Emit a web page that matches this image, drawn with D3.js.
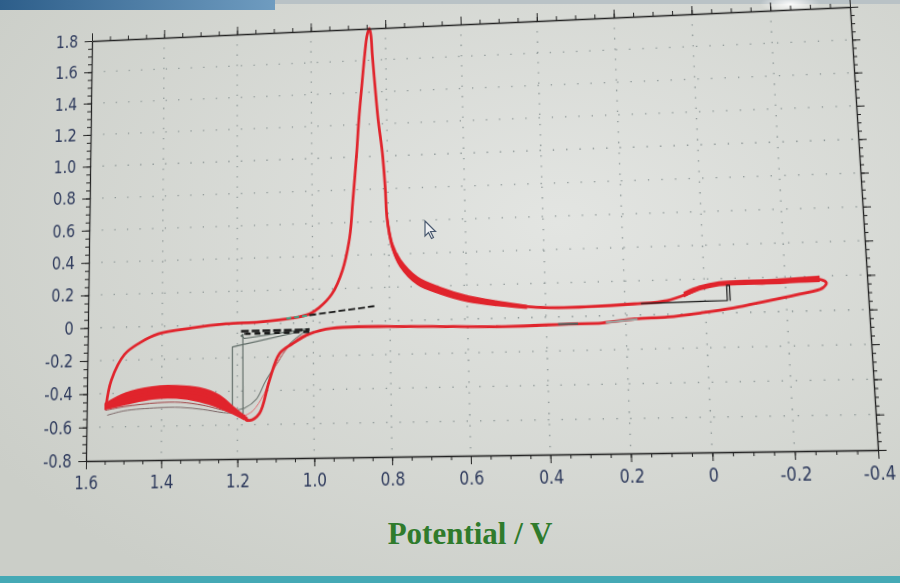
<!DOCTYPE html>
<html>
<head>
<meta charset="utf-8">
<script src="https://cdn.jsdelivr.net/npm/d3@7"></script>
<style>
  html, body { margin: 0; padding: 0; width: 900px; height: 583px; overflow: hidden; background: #d6d9d4; }
  #base, #cv { position: absolute; left: 0; top: 0; }
  #cv { transform-origin: 0 0; }
  .tick text { font-family: "Liberation Sans Narrow", "DejaVu Sans Condensed", "Liberation Sans", Arial, sans-serif; font-size: 17px; fill: #2e3a5c; }
  .tick line { stroke: #222; }
  .domain { stroke: #222; stroke-width: 1.3px; }
</style>
</head>
<body>
<svg id="base" width="900" height="583"></svg>
<svg id="cv" width="900" height="583"></svg>
<script>
// cyclic voltammogram (photo of instrument screen)

// axes
var xTicks = [1.6, 1.4, 1.2, 1.0, 0.8, 0.6, 0.4, 0.2, 0, -0.2, -0.4],
    xTickLabels = ["1.6", "1.4", "1.2", "1.0", "0.8", "0.6", "0.4", "0.2", "0", "-0.2", "-0.4"];
var yTicks = [-0.8, -0.6, -0.4, -0.2, 0, 0.2, 0.4, 0.6, 0.8, 1.0, 1.2, 1.4, 1.6, 1.8],
    yTickLabels = ["-0.8", "-0.6", "-0.4", "-0.2", "0", "0.2", "0.4", "0.6", "0.8", "1.0", "1.2", "1.4", "1.6", "1.8"];
var xTitle = "Potential / V";

// main cycle [E, I]
var cycleMain = [
  [1.548, -0.47], [1.535, -0.32], [1.50, -0.165], [1.46, -0.098], [1.41, -0.046],
  [1.32, -0.015], [1.23, 0.005], [1.14, 0.012], [1.055, 0.03], [1.01, 0.052],
  [0.984, 0.089], [0.95, 0.17], [0.922, 0.31], [0.902, 0.51], [0.893, 0.72],
  [0.881, 1.02], [0.874, 1.23], [0.865, 1.44], [0.856, 1.64], [0.849, 1.76],
  [0.843, 1.80], [0.839, 1.76], [0.836, 1.64], [0.830, 1.44], [0.823, 1.23],
  [0.813, 1.02], [0.807, 0.81], [0.803, 0.61], [0.790, 0.44], [0.771, 0.34],
  [0.727, 0.234], [0.668, 0.17], [0.598, 0.118], [0.513, 0.084], [0.403, 0.056],
  [0.30, 0.055], [0.177, 0.065], [0.094, 0.08], [0.04, 0.12], [0.012, 0.148],
  [-0.037, 0.172], [-0.153, 0.175], [-0.233, 0.18], [-0.282, 0.182], [-0.300, 0.162],
  [-0.290, 0.13], [-0.233, 0.098], [-0.153, 0.063], [-0.069, 0.027], [0.012, 0.003],
  [0.094, -0.016], [0.177, -0.023], [0.259, -0.042], [0.343, -0.044], [0.513, -0.05],
  [0.748, -0.036], [0.95, -0.036], [1.01, -0.067], [1.055, -0.124], [1.089, -0.182],
  [1.116, -0.343], [1.142, -0.535], [1.168, -0.575], [1.213, -0.515], [1.247, -0.455],
  [1.30, -0.41], [1.361, -0.395], [1.425, -0.40], [1.496, -0.435], [1.548, -0.47]
];

// spread of the overlapping cycles [E, Itop, Ibottom]
var bandLeft = [
  [1.55, -0.46, -0.49], [1.496, -0.40, -0.465], [1.425, -0.366, -0.435], [1.361, -0.362, -0.432],
  [1.30, -0.378, -0.455], [1.247, -0.425, -0.495], [1.213, -0.49, -0.53], [1.175, -0.56, -0.575]
];
var bandDecay = [
  [0.803, 0.62, 0.60], [0.790, 0.46, 0.43], [0.771, 0.365, 0.325], [0.727, 0.255, 0.215],
  [0.668, 0.19, 0.155], [0.598, 0.135, 0.105], [0.513, 0.095, 0.074], [0.45, 0.07, 0.058]
];
var bandRight = [
  [0.05, 0.125, 0.105], [0.012, 0.158, 0.14], [-0.037, 0.18, 0.163], [-0.153, 0.185, 0.165],
  [-0.233, 0.192, 0.17], [-0.282, 0.196, 0.172]
];

// first cycles (thin)
var olderA = [[1.55, -0.50], [1.50, -0.48], [1.41, -0.46], [1.35, -0.46], [1.29, -0.48], [1.23, -0.515], [1.215, -0.52]];
var olderB = [[1.545, -0.53], [1.50, -0.505], [1.41, -0.49], [1.35, -0.49], [1.29, -0.505], [1.24, -0.525], [1.215, -0.53]];
var riseA = [[1.215, -0.515], [1.18, -0.50], [1.15, -0.45], [1.125, -0.34], [1.09, -0.22], [1.06, -0.12], [1.02, -0.05]];
var riseB = [[1.185, -0.55], [1.16, -0.52], [1.13, -0.42], [1.105, -0.28], [1.075, -0.17], [1.04, -0.09], [1.01, -0.06]];

// switching steps drawn by the instrument
var stepA = [[1.01, -0.04], [1.213, -0.135], [1.213, -0.52]];
var stepB = [[1.01, -0.035], [1.18, -0.085], [1.19, -0.07], [1.185, -0.06], [1.185, -0.56]];
var stepRight = [[0.16, 0.066], [-0.055, 0.072], [-0.055, 0.16], [-0.062, 0.16], [-0.062, 0.07]];
var dashUpper = [[1.01, 0.045], [0.84, 0.09]];
var dashGreen = [[1.07, 0.028], [1.01, 0.045]];
var dashLowerA = [[1.19, -0.042], [1.01, -0.042]];
var dashLowerB = [[1.18, -0.058], [1.01, -0.054]];
var grayLower = [[0.37, -0.043], [0.32, -0.043]];
var grayLower2 = [[0.25, -0.04], [0.17, -0.024]];

// flat plot box, then warped onto the photographed screen
var L = 92, T = 41, W = 778, H = 420;
var quad = [[92, 41], [850, 7], [878, 450], [86, 461]];

var x = d3.scaleLinear().domain([1.6, -0.4]).range([L, L + W]),
    y = d3.scaleLinear().domain([-0.8, 1.8]).range([T + H, T]);

var red = "#e0242c";

// background layer
var base = d3.select("#base");
var defs = base.append("defs");
var rg = defs.append("radialGradient").attr("id", "bg").attr("cx", "62%").attr("cy", "38%").attr("r", "75%");
rg.append("stop").attr("offset", "0%").attr("stop-color", "#e3e5e2");
rg.append("stop").attr("offset", "100%").attr("stop-color", "#cbcec8");
base.append("rect").attr("width", 900).attr("height", 583).attr("fill", "url(#bg)");
var tb = defs.append("linearGradient").attr("id", "tb");
tb.append("stop").attr("offset", "0%").attr("stop-color", "#2d5e8a");
tb.append("stop").attr("offset", "100%").attr("stop-color", "#6f9cc0");
base.append("rect").attr("x", 0).attr("y", 0).attr("width", 275).attr("height", 10).attr("fill", "url(#tb)");
base.append("rect").attr("x", 275).attr("y", 0).attr("width", 625).attr("height", 4).attr("fill", "#b9c2c6");
base.append("rect").attr("x", 0).attr("y", 576).attr("width", 900).attr("height", 7).attr("fill", "#45a9b5");
var gl = defs.append("radialGradient").attr("id", "glare");
gl.append("stop").attr("offset", "0%").attr("stop-color", "#ffffff").attr("stop-opacity", 0.9);
gl.append("stop").attr("offset", "100%").attr("stop-color", "#ffffff").attr("stop-opacity", 0);
base.append("ellipse").attr("cx", 790).attr("cy", 4).attr("rx", 30).attr("ry", 10).attr("fill", "url(#glare)");

base.append("text")
    .attr("x", 470)
    .attr("y", 544)
    .attr("text-anchor", "middle")
    .style("font-family", "'Liberation Serif', 'Times New Roman', serif")
    .style("font-weight", "bold")
    .style("font-size", "31px")
    .style("fill", "#2f7b2c")
    .text(xTitle);

// mouse pointer
base.append("path")
    .attr("d", "M425,221 L425,236 L428.5,232.5 L431.5,238.5 L433.5,237.5 L430.5,231.5 L435.5,231.5 Z")
    .attr("fill", "#eef0f2")
    .attr("stroke", "#4a5a70")
    .attr("stroke-width", 1.2);

// chart layer
var svg = d3.select("#cv");
svg.style("transform", quadMatrix(L, T, W, H, quad));
var g = svg.append("g");

function quadMatrix(L, T, W, H, q) {
    var x0 = q[0][0], y0 = q[0][1], x1 = q[1][0], y1 = q[1][1],
        x2 = q[2][0], y2 = q[2][1], x3 = q[3][0], y3 = q[3][1];
    var dx1 = x1 - x2, dx2 = x3 - x2, dx3 = x0 - x1 + x2 - x3,
        dy1 = y1 - y2, dy2 = y3 - y2, dy3 = y0 - y1 + y2 - y3;
    var det = dx1 * dy2 - dx2 * dy1;
    var gg = (dx3 * dy2 - dx2 * dy3) / det,
        hh = (dx1 * dy3 - dx3 * dy1) / det;
    var a = x1 - x0 + gg * x1, b = x3 - x0 + hh * x3, c = x0,
        d = y1 - y0 + gg * y1, e = y3 - y0 + hh * y3, f = y0;
    var r1 = [a / W, b / H, c - a * L / W - b * T / H],
        r2 = [d / W, e / H, f - d * L / W - e * T / H],
        r3 = [gg / W, hh / H, 1 - gg * L / W - hh * T / H];
    return "matrix3d(" + [r1[0], r2[0], 0, r3[0], r1[1], r2[1], 0, r3[1], 0, 0, 1, 0, r1[2], r2[2], 0, r3[2]].join(",") + ")";
}

// dotted grid
g.selectAll(".vgrid")
    .data(xTicks.slice(1, -1))
    .enter().append("line")
    .attr("x1", function(d) { return x(d); })
    .attr("x2", function(d) { return x(d); })
    .attr("y1", T).attr("y2", T + H)
    .attr("stroke", "#8a9494").attr("stroke-width", 1.3)
    .attr("stroke-dasharray", "1.3,9");
g.selectAll(".hgrid")
    .data(yTicks.slice(1, -1))
    .enter().append("line")
    .attr("y1", function(d) { return y(d); })
    .attr("y2", function(d) { return y(d); })
    .attr("x1", L).attr("x2", L + W)
    .attr("stroke", "#8a9494").attr("stroke-width", 1.3)
    .attr("stroke-dasharray", "1.3,12");

var smooth = d3.line()
    .curve(d3.curveCatmullRom.alpha(0.5))
    .x(function(d) { return x(d[0]); })
    .y(function(d) { return y(d[1]); });
var straight = d3.line()
    .x(function(d) { return x(d[0]); })
    .y(function(d) { return y(d[1]); });
var band = d3.area()
    .curve(d3.curveCatmullRom.alpha(0.5))
    .x(function(d) { return x(d[0]); })
    .y0(function(d) { return y(d[2]); })
    .y1(function(d) { return y(d[1]); });

function trace(data, gen, color, width, dash) {
    g.append("path")
        .attr("d", gen(data))
        .attr("fill", "none")
        .attr("stroke", color)
        .attr("stroke-width", width)
        .attr("stroke-dasharray", dash || null)
        .attr("stroke-linejoin", "round");
}

// thin early cycles
trace(olderB, smooth, "#7e6a6a", 1);
trace(olderA, smooth, "#a04548", 1);
trace(riseA, smooth, "#6f7873", 1.1);
trace(riseB, smooth, "#e36a6e", 1);
trace(stepA, straight, "#5f6b66", 1.2);
trace(stepB, straight, "#5f6b66", 1.2);

// red bands and main cycle
[bandLeft, bandDecay, bandRight].forEach(function(b) {
    g.append("path")
        .attr("d", band(b))
        .attr("fill", red)
        .attr("stroke", red)
        .attr("stroke-width", 2);
});
trace(cycleMain, smooth, red, 2.8);

// instrument overlays
trace(grayLower, straight, "#555d5a", 2);
trace(grayLower2, straight, "#9aa3a0", 2);
trace(stepRight, straight, "#1c1c1c", 1.2);
trace(dashGreen, straight, "#3aa88a", 1.8, "5,3");
trace(dashUpper, straight, "#1a1a1a", 1.8, "7,3");
trace(dashLowerA, straight, "#1a1a1a", 2.4, "8,3");
trace(dashLowerB, straight, "#1a1a1a", 2.4, "6,4");

// axes with minor ticks
function fmt(ticks, labels) {
    return function(d) {
        var i = ticks.findIndex(function(t) { return Math.abs(t - d) < 1e-9; });
        return i < 0 ? "" : labels[i];
    };
}
var xMinor = d3.range(-40, 161, 5).map(function(v) { return v / 100; }),
    yMinor = d3.range(-80, 181, 5).map(function(v) { return v / 100; });

function addAxis(axis, minorVals, majorVals, labelFn, tx, ty) {
    var gm = g.append("g")
        .attr("transform", "translate(" + tx + "," + ty + ")")
        .call(axis(minorVals === xMinor ? x : y).tickValues(minorVals).tickSize(4).tickSizeOuter(0).tickFormat(""));
    gm.select(".domain").remove();
    g.append("g")
        .attr("transform", "translate(" + tx + "," + ty + ")")
        .call(axis(minorVals === xMinor ? x : y).tickValues(majorVals).tickSize(8).tickSizeOuter(0).tickPadding(7).tickFormat(labelFn));
}
addAxis(d3.axisBottom, xMinor, xTicks, fmt(xTicks, xTickLabels), 0, T + H);
addAxis(d3.axisTop, xMinor, xTicks, "", 0, T);
addAxis(d3.axisLeft, yMinor, yTicks, fmt(yTicks, yTickLabels), L, 0);
addAxis(d3.axisRight, yMinor, yTicks, "", L + W, 0);
</script>
</body>
</html>
